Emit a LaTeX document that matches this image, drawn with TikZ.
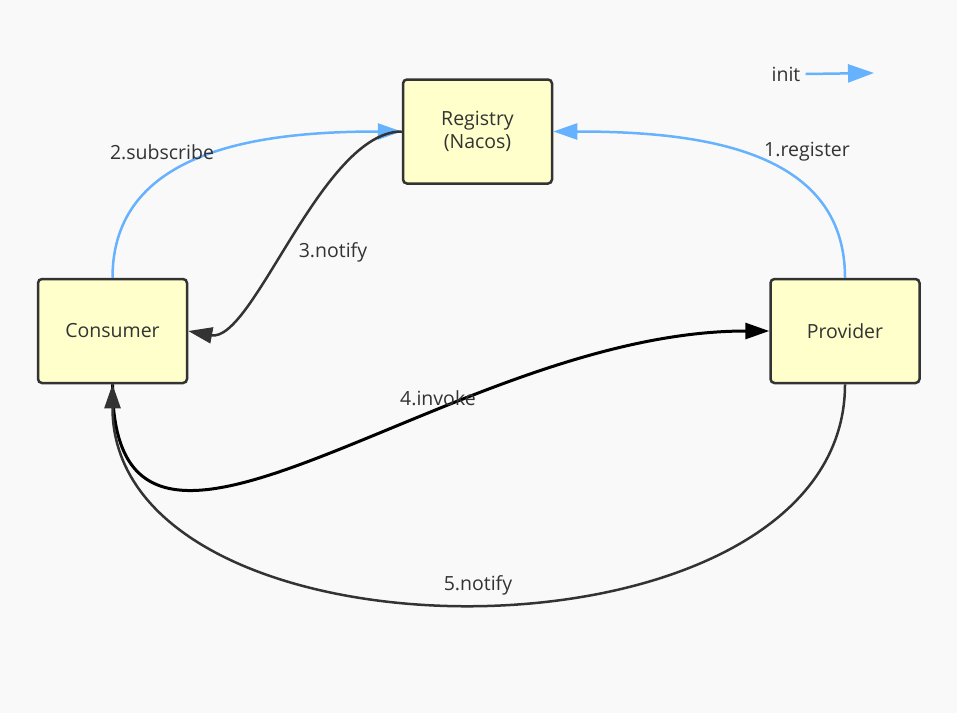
\documentclass[tikz,border=0pt]{standalone}
\usepackage{fontspec}
\setmainfont{Open Sans}
\usetikzlibrary{arrows.meta}
\definecolor{bgcol}{RGB}{249,249,249}
\definecolor{boxfill}{RGB}{255,255,204}
\definecolor{darkline}{RGB}{51,51,51}
\definecolor{initblue}{RGB}{102,178,255}
\tikzset{
	svcbox/.style={draw=darkline, fill=boxfill, line width=2.5pt, rounded corners=4pt, minimum width=149pt, minimum height=104pt, align=center, text=darkline, font=\fontsize{19.5}{23}\selectfont},
	lbl/.style={text=darkline, font=\fontsize{19.5}{23}\selectfont, inner sep=0pt},
	initline/.style={draw=initblue, line width=2.5pt, -{Triangle[length=24pt,width=16pt]}},
	notifyline/.style={draw=darkline, line width=2.5pt, -{Triangle[length=24pt,width=16pt]}},
	invokeline/.style={draw=black, line width=3pt, -{Triangle[length=24pt,width=16pt]}}
}

\begin{document}
\begin{tikzpicture}[x=1pt, y=-1pt]
			%%%%% START %%%%%
			
			\fill[bgcol] (0, 0) rectangle (957, 713);
			\useasboundingbox (0, 0) rectangle (957, 713);
			
			\node[svcbox] (registry) at (477.5, 131.5) {Registry\\(Nacos)};
			\node[svcbox] (consumer) at (112.5, 331) {Consumer};
			\node[svcbox] (provider) at (845, 331) {Provider};
			
			% legend
			\node[lbl] (initlabel) at (786, 74) {init};
			\coordinate (initend) at (874, 73);
			\draw[initline, -{Triangle[length=26pt,width=18pt]}] ([xshift=5pt]initlabel.east) -- (initend);
			
			\draw[initline] (provider.north) .. controls +(0, -128) and +(148, 0) .. (registry.east);
			\node[lbl] (lblregister) at (807, 152) {1.register};
			
			\draw[initline] (consumer.north) .. controls +(0, -128) and +(-142, 0) .. (registry.west);
			\node[lbl] (lblsubscribe) at (162, 152) {2.subscribe};
			
			\draw[notifyline] (registry.west) .. controls +(-80, 0) and +(65, 12) .. (consumer.east);
			\node[lbl] (lblnotifya) at (333, 252) {3.notify};
			
			\draw[invokeline] (consumer.south) .. controls +(0, 267) and +(-320, 0) .. (provider.west);
			\node[lbl] (lblinvoke) at (438, 398) {4.invoke};
			
			\draw[notifyline] (provider.south) .. controls +(0, 292) and +(0, 292) .. (consumer.south);
			\node[lbl] (lblnotifyb) at (478, 585) {5.notify};
			
			%%%%% END %%%%%
\end{tikzpicture}
\end{document}
